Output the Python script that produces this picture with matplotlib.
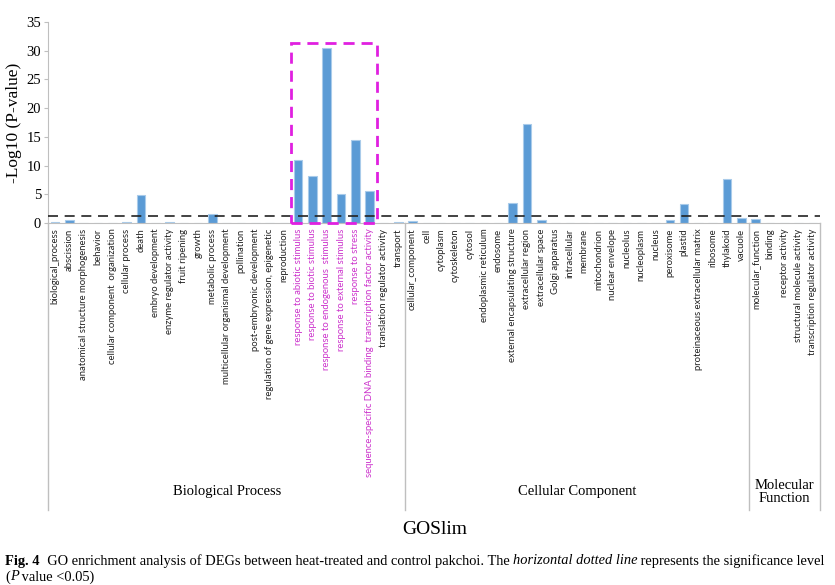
import matplotlib
matplotlib.use("Agg")
import matplotlib.pyplot as plt
from matplotlib.patches import Rectangle
from matplotlib.lines import Line2D

bp_terms = ["biological_process", "abscission", "anatomical structure morphogenesis", "behavior",
            "cellular component  organization", "cellular process", "death", "embryo development",
            "enzyme regulator activity", "fruit ripening", "growth", "metabolic process",
            "multicellular organismal development", "pollination", "post-embryonic development",
            "regulation of gene expression, epigenetic", "reproduction",
            "response to abiotic stimulus", "response to biotic stimulus",
            "response to endogenous  stimulus", "response to external stimulus",
            "response to stress", "sequence-specific DNA binding  transcription factor activity",
            "translation regulator activity", "transport"]
bp_values = [0.15, 0.6, 0, 0, 0, 0.15, 4.8, 0, 0.15, 0, 0, 1.5, 0, 0, 0, 0, 0,
             11.0, 8.2, 30.5, 5.1, 14.4, 5.6, 0, 0.1]

cc_terms = ["cellular_component", "cell", "cytoplasm", "cytoskeleton", "cytosol",
            "endoplasmic reticulum", "endosome", "external encapsulating structure",
            "extracellular region", "extracellular space", "Golgi apparatus", "intracellular",
            "membrane", "mitochondrion", "nuclear envelope", "nucleolus", "nucleoplasm",
            "nucleus", "peroxisome", "plastid", "proteinaceous extracellular matrix",
            "ribosome", "thylakoid", "vacuole"]
cc_values = [0.3, 0, 0, 0, 0, 0, 0, 3.5, 17.3, 0.6, 0, 0, 0, 0, 0, 0, 0, 0,
             0.6, 3.3, 0, 0, 7.7, 0.8]

mf_terms = ["molecular_function", "binding", "receptor activity",
            "structural molecule activity", "transcription regulator activity"]
mf_values = [0.7, 0, 0, 0, 0]

group_names = ["Biological Process", "Cellular Component", "Molecular\nFunction"]
highlighted = ["response to abiotic stimulus", "response to biotic stimulus",
               "response to endogenous  stimulus", "response to external stimulus",
               "response to stress",
               "sequence-specific DNA binding  transcription factor activity"]
threshold = 1.30
box_top = 31.3

terms = bp_terms + cc_terms + mf_terms
values = bp_values + cc_values + mf_values
sizes = [len(bp_terms), len(cc_terms), len(mf_terms)]
x = list(range(len(terms)))

W, H = 835, 585
fig = plt.figure(figsize=(W / 100, H / 100), dpi=100)
ax = fig.add_axes([48 / W, 1 - 223 / H, (820 - 48) / W, 201 / H])

ax.bar(x, values, width=0.6, color="#5B9BD5", edgecolor="#A9CBEA", linewidth=0.8, zorder=2)
ax.set_xlim(-0.5, len(terms) - 0.5)
ax.set_ylim(0, 35)
ax.set_yticks(range(0, 36, 5))
ax.tick_params(axis="y", labelsize=10.5, length=3, color="#BFBFBF", pad=2)
for lab in ax.get_yticklabels():
    lab.set_fontfamily("Liberation Serif")
ax.set_xticks(x)
ax.set_xticklabels(terms, rotation=90, fontsize=6.8, fontfamily="Lato")
ax.tick_params(axis="x", length=0, pad=4)
for lab in ax.get_xticklabels():
    lab.set_color("#CC33CC" if lab.get_text() in highlighted else "#222222")
for s in ["top", "right"]:
    ax.spines[s].set_visible(False)
for s in ["left", "bottom"]:
    ax.spines[s].set_color("#BFBFBF")
ax.set_ylabel("-Log10 (P-value)", fontsize=12.5, fontfamily="Liberation Serif")
ax.yaxis.set_label_coords((22 - 48) / 772, 0.5)

ax.axhline(threshold, color="#222222", lw=1.2, dashes=(6, 4), zorder=3)

i0 = bp_terms.index(highlighted[0])
i1 = bp_terms.index(highlighted[-1])
ax.add_patch(Rectangle((i0 - 0.5, 0), i1 - i0 + 1, box_top, fill=False,
                       edgecolor="#E020E0", lw=2, linestyle=(0, (4, 2.5)), zorder=4,
                       clip_on=False))

tr = ax.get_xaxis_transform()
bounds = [-0.5]
for s in sizes:
    bounds.append(bounds[-1] + s)
ybot = (223 - 510) / 201
for b in bounds:
    ax.add_line(Line2D([b, b], [0, ybot], transform=tr, color="#BFBFBF", lw=1, clip_on=False))
ylab = (223 - 492) / 201
for i, name in enumerate(group_names):
    cx = (bounds[i] + bounds[i + 1]) / 2
    ax.text(cx, ylab, name, transform=tr, ha="center", va="center", fontsize=10.5,
            fontfamily="Liberation Serif", linespacing=1.0)

fig.text(435 / W, 1 - 530 / H, "GOSlim", ha="center", va="center", fontsize=14,
         fontfamily="Liberation Serif")

cy1 = 1 - 561 / H
cap = [("Fig. 4", "bold", "normal"),
       ("  GO enrichment analysis of DEGs between heat-treated and control pakchoi. The ", "normal", "normal"),
       ("horizontal dotted line", "normal", "italic"),
       (" represents the significance level", "normal", "normal")]
fig.canvas.draw()
r = fig.canvas.get_renderer()
xpos = 5
for txt, wgt, sty in cap:
    t = fig.text(xpos / W, cy1, txt, ha="left", va="center", fontsize=10.4,
                 fontfamily="Liberation Serif", fontweight=wgt, fontstyle=sty)
    bb = t.get_window_extent(renderer=r)
    xpos += bb.width
cy2 = 1 - 577 / H
xpos = 5
for txt, sty in [("(", "normal"), ("P", "italic"), (" value <0.05)", "normal")]:
    t = fig.text(xpos / W, cy2, txt, ha="left", va="center", fontsize=10.4,
                 fontfamily="Liberation Serif", fontstyle=sty)
    bb = t.get_window_extent(renderer=r)
    xpos += bb.width

fig.savefig("out.png", dpi=100)
